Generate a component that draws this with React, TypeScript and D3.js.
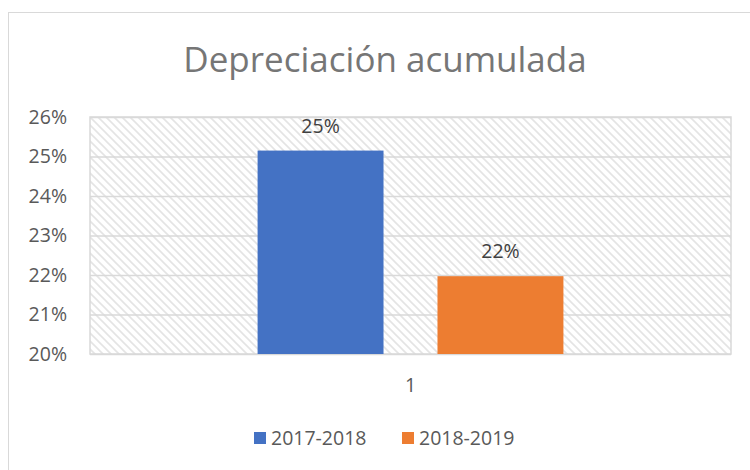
import { useEffect, useRef } from "react";
import * as d3 from "d3";

const categories = ["1"];
const seriesNames = ["2017-2018", "2018-2019"];
const seriesValues = [25.15, 21.97];
const seriesColors = ["#4472C4", "#ED7D31"];
const tickValues = [20, 21, 22, 23, 24, 25, 26];

const App = () => {
  const svgRef = useRef<SVGSVGElement | null>(null);
  const width = 750;
  const height = 470;
  const margin = { left: 90, top: 117, right: 19, bottom: 116 };

  useEffect(() => {
    if (!svgRef.current) return;
    const svg = d3.select(svgRef.current);
    svg.selectAll("*").remove();

    const font = "'Open Sans', 'Noto Sans', sans-serif";
    const innerWidth = width - margin.left - margin.right;
    const innerHeight = height - margin.top - margin.bottom;

    // outer chart frame
    svg
      .append("rect")
      .attr("x", 8.5)
      .attr("y", 12.5)
      .attr("width", 780)
      .attr("height", 500)
      .attr("fill", "#fff")
      .attr("stroke", "#d9d9d9");

    const defs = svg.append("defs");
    const pattern = defs
      .append("pattern")
      .attr("id", "hatch")
      .attr("patternUnits", "userSpaceOnUse")
      .attr("width", 8)
      .attr("height", 8);
    pattern.append("rect").attr("width", 8).attr("height", 8).attr("fill", "#fff");
    pattern
      .append("path")
      .attr("d", "M-2,-2 L10,10 M-2,6 L2,10 M6,-2 L10,2")
      .attr("stroke", "#e4e4e4")
      .attr("stroke-width", 1.6);

    svg
      .append("text")
      .attr("x", 385)
      .attr("y", 72)
      .attr("text-anchor", "middle")
      .attr("font-family", font)
      .attr("font-size", "35px")
      .attr("fill", "#767676")
      .text("Depreciación acumulada");

    const g = svg
      .append("g")
      .attr("transform", `translate(${margin.left},${margin.top})`);

    const yScale = d3.scaleLinear().domain([20, 26]).range([innerHeight, 0]);
    const xScale = d3
      .scaleBand()
      .domain(categories)
      .range([0, innerWidth])
      .padding(0.354);
    const xInner = d3
      .scaleBand()
      .domain(seriesNames)
      .range([0, xScale.bandwidth()])
      .paddingInner(0.3)
      .paddingOuter(0);

    g.append("rect")
      .attr("width", innerWidth)
      .attr("height", innerHeight)
      .attr("fill", "url(#hatch)");

    const yGrid = d3
      .axisLeft(yScale)
      .tickValues(tickValues)
      .tickSize(-innerWidth)
      .tickFormat(() => "");
    g.append("g")
      .call(yGrid)
      .call((s) => s.select(".domain").remove())
      .call((s) =>
        s.selectAll(".tick line").attr("stroke", "#d9d9d9").attr("stroke-width", 1.5),
      );

    g.append("rect")
      .attr("width", innerWidth)
      .attr("height", innerHeight)
      .attr("fill", "none")
      .attr("stroke", "#d9d9d9")
      .attr("stroke-width", 1.5);

    const yAxis = d3
      .axisLeft(yScale)
      .tickValues(tickValues)
      .tickSize(0)
      .tickPadding(23)
      .tickFormat((d) => `${d}%`);
    g.append("g")
      .call(yAxis)
      .call((s) => s.select(".domain").remove())
      .call((s) =>
        s
          .selectAll("text")
          .attr("font-family", font)
          .attr("font-size", "19.5px")
          .attr("fill", "#595959"),
      );

    const xAxis = d3.axisBottom(xScale).tickSize(0).tickPadding(24);
    g.append("g")
      .attr("transform", `translate(0,${innerHeight})`)
      .call(xAxis)
      .call((s) => s.select(".domain").remove())
      .call((s) =>
        s
          .selectAll("text")
          .attr("font-family", font)
          .attr("font-size", "19.5px")
          .attr("fill", "#595959"),
      );

    const cx = xScale(categories[0]) as number;
    const bars = seriesNames.map((name, i) => ({
      name,
      value: seriesValues[i],
      color: seriesColors[i],
    }));

    g.selectAll(".bar")
      .data(bars)
      .enter()
      .append("rect")
      .attr("x", (d) => cx + (xInner(d.name) as number))
      .attr("y", (d) => yScale(d.value))
      .attr("width", xInner.bandwidth())
      .attr("height", (d) => innerHeight - yScale(d.value))
      .attr("fill", (d) => d.color);

    g.selectAll(".value-label")
      .data(bars)
      .enter()
      .append("text")
      .attr("x", (d) => cx + (xInner(d.name) as number) + xInner.bandwidth() / 2)
      .attr("y", (d) => yScale(d.value) - 18)
      .attr("text-anchor", "middle")
      .attr("font-family", font)
      .attr("font-size", "19.5px")
      .attr("fill", "#404040")
      .text((d) => `${Math.round(d.value)}%`);

    const legend = svg.append("g").attr("transform", "translate(254,432)");
    const offsets = [0, 148];
    bars.forEach((d, i) => {
      const item = legend.append("g").attr("transform", `translate(${offsets[i]},0)`);
      item.append("rect").attr("width", 12).attr("height", 12).attr("fill", d.color);
      item
        .append("text")
        .attr("x", 17)
        .attr("y", 13)
        .attr("font-family", font)
        .attr("font-size", "19.5px")
        .attr("fill", "#595959")
        .text(d.name);
    });
  }, []);

  return (
    <svg
      ref={svgRef}
      width={width}
      height={height}
      style={{ position: "absolute", left: 0, top: 0, display: "block" }}
    />
  );
};

export default App;
